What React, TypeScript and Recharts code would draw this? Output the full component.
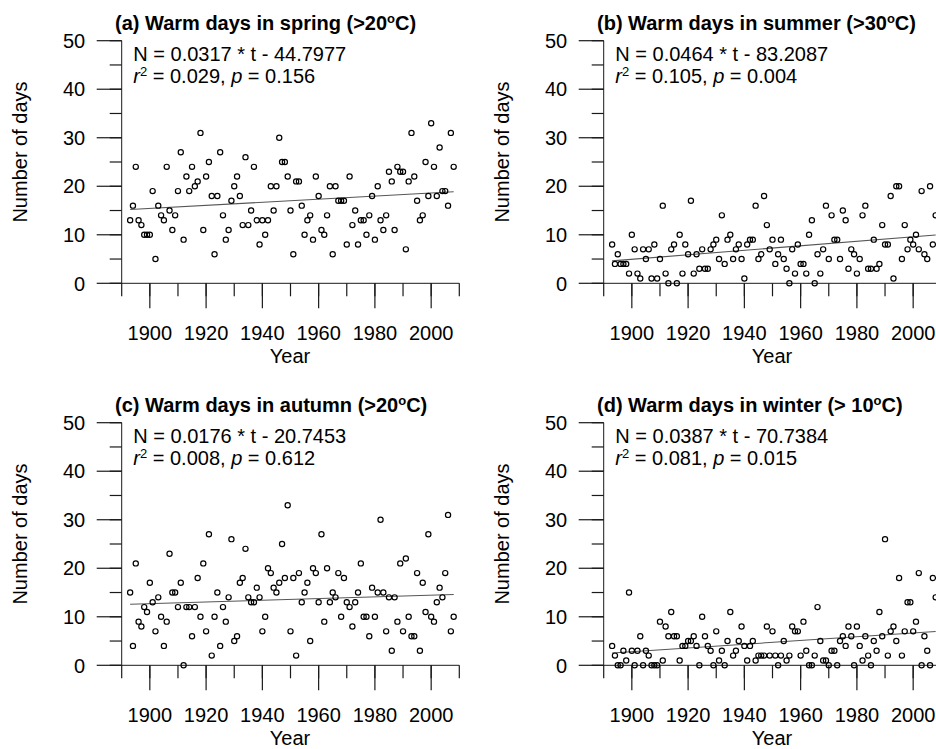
import React from 'react';
import { ScatterChart, Scatter, XAxis, YAxis, ReferenceLine } from 'recharts';

const FIRST_YEAR = 1893;

const SPRING = [
  13, 16, 24, 13, 12, 10, 10, 10, 19, 5,
  16, 14, 13, 24, 15, 11, 14, 19, 27, 9,
  22, 19, 24, 20, 21, 31, 11, 22, 25, 18,
  6, 18, 27, 14, 9, 11, 17, 20, 22, 18,
  12, 26, 12, 15, 24, 13, 8, 13, 10, 13,
  20, 15, 20, 30, 25, 25, 22,
  15, 6, 21, 21, 16, 10, 13, 14, 9, 22,
  18, 11, 10, 14, 20, 6, 20, 17, 17, 17,
  8, 22, 12, 15, 8, 13, 13, 10, 14, 18,
  9, 20, 13, 11, 14, 23, 21, 11, 24, 23,
  23, 7, 21, 31, 22, 17, 13, 14, 25, 18,
  33, 24, 18, 28, 19, 19, 16, 31, 24,
];

const SUMMER = [
  8, 4, 6, 4, 4, 4, 2, 10, 7, 2,
  1, 7, 5, 7, 1, 8, 1, 5, 16, 2,
  0, 7, 8, 0, 10, 2, 8, 6, 17, 2,
  6, 3, 7, 3, 3, 7, 8, 9, 5, 14,
  4, 9, 10, 5, 7, 8, 5, 1, 8, 9,
  9, 16, 5, 6, 18, 12, 7,
  9, 4, 6, 9, 5, 3, 0, 7, 2, 8,
  4, 4, 2, 10, 13, 0, 6, 2, 7, 16,
  5, 14, 9, 9, 5, 15, 13, 3, 7, 6,
  2, 5, 14, 16, 3, 3, 9, 3, 4, 12,
  8, 8, 18, 1, 20, 20, 5, 12, 7, 9,
  8, 10, 7, 19, 6, 5, 20, 8, 14,
];

const AUTUMN = [
  15, 4, 21, 9, 8, 12, 11, 17, 13, 7,
  14, 10, 4, 9, 23, 15, 15, 12, 17, 0,
  12, 12, 6, 12, 18, 10, 21, 7, 27, 2,
  10, 15, 4, 12, 9, 14, 26, 5, 6, 17,
  18, 24, 14, 13, 13, 16, 14, 7, 10, 20,
  19, 16, 15, 17, 25, 18, 33,
  7, 18, 2, 19, 13, 15, 17, 5, 20, 19,
  13, 27, 9, 20, 13, 15, 14, 19, 10, 18,
  13, 12, 8, 13, 15, 21, 10, 10, 6, 16,
  10, 15, 30, 15, 7, 14, 3, 14, 9, 21,
  7, 22, 10, 6, 6, 19, 3, 17, 11, 27,
  10, 9, 13, 16, 14, 19, 31, 7, 10,
];

const WINTER = [
  4, 2, 0, 0, 3, 1, 15, 3, 0, 3,
  6, 0, 3, 2, 0, 0, 0, 9, 1, 8,
  6, 11, 6, 6, 1, 4, 4, 5, 5, 6,
  4, 0, 10, 6, 4, 3, 0, 7, 1, 3,
  0, 5, 11, 2, 3, 5, 8, 4, 1, 4,
  5, 1, 2, 2, 2, 8, 2,
  7, 2, 0, 2, 5, 1, 2, 8, 7, 7,
  2, 9, 3, 0, 0, 2, 12, 5, 1, 1,
  0, 3, 3, 0, 5, 6, 4, 8, 6, 0,
  8, 4, 1, 6, 2, 0, 5, 3, 11, 6,
  26, 2, 7, 8, 5, 18, 2, 7, 13, 13,
  7, 9, 19, 0, 6, 3, 0, 18, 14,
];

const X_TICKS = [1890, 1900, 1910, 1920, 1930, 1940, 1950, 1960, 1970, 1980, 1990, 2000, 2010];
const X_LABELS = [1900, 1920, 1940, 1960, 1980, 2000];
const Y_TICKS = [0, 5, 10, 15, 20, 25, 30, 35, 40, 45, 50];
const Y_LABELS = [0, 10, 20, 30, 40, 50];
const X_DOMAIN = [1890, 2010];
const Y_DOMAIN = [0, 50];

const TITLE_HEADS = [
  '(a) Warm days in spring (>20',
  '(b) Warm days in summer (>30',
  '(c) Warm days in autumn (>20',
  '(d) Warm days in winter (> 10',
];
const EQUATIONS = [
  'N = 0.0317 * t - 44.7977',
  'N = 0.0464 * t - 83.2087',
  'N = 0.0176 * t - 20.7453',
  'N = 0.0387 * t - 70.7384',
];
const R2_VALUES = ['0.029', '0.105', '0.008', '0.081'];
const P_VALUES = ['0.156', '0.004', '0.612', '0.015'];
const SLOPES = [0.0317, 0.0464, 0.0176, 0.0387];
const INTERCEPTS = [-44.7977, -83.2087, -20.7453, -70.7384];
const SERIES = [SPRING, SUMMER, AUTUMN, WINTER];

const FONT = '"Liberation Sans", Arial, Helvetica, sans-serif';
const AXIS = '#1a1a1a';
const PANEL_W = 470;
const PANEL_H = 380;
const PLOT_LEFT = 121.7;
const PLOT_RIGHT = 459.3;
const PLOT_TOP = 40.7;
const PLOT_BOTTOM = 283.3;
const Y_AXIS_W = 100;
const X_AXIS_H = 60;
const Y_MINOR = 12;
const Y_MAJOR = 25;
const X_MINOR = 13;
const X_MAJOR = 25;
const PANEL_POS = [
  { left: 0, top: 0 },
  { left: 481.6, top: 0 },
  { left: 0, top: 382 },
  { left: 481.6, top: 382 },
];

// same linear mapping as the chart's plot box (used only for the longer major tick marks)
const xPix = (t: number) => PLOT_LEFT + ((t - X_DOMAIN[0]) * (PLOT_RIGHT - PLOT_LEFT)) / (X_DOMAIN[1] - X_DOMAIN[0]);
const yPix = (v: number) => PLOT_BOTTOM - ((v - Y_DOMAIN[0]) * (PLOT_BOTTOM - PLOT_TOP)) / (Y_DOMAIN[1] - Y_DOMAIN[0]);

function YTick(props: any) {
  const x = Number(props.x);
  const y = Number(props.y);
  const v = props.payload.value;
  if (!Y_LABELS.includes(v)) return <g />;
  return (
    <text x={x - (Y_MAJOR - Y_MINOR) - 11.5} y={y} dy="0.36em" textAnchor="end" fontSize={20} fontFamily={FONT} fill="#000">
      {v}
    </text>
  );
}

function XTick(props: any) {
  const x = Number(props.x);
  const y = Number(props.y);
  const v = props.payload.value;
  if (!X_LABELS.includes(v)) return <g />;
  return (
    <text x={x} y={y + 56.5 - X_MINOR} textAnchor="middle" fontSize={20} fontFamily={FONT} fill="#000">
      {v}
    </text>
  );
}

function OpenCircle(props: any) {
  const { cx, cy } = props;
  if (cx == null || cy == null) return null;
  return <circle cx={cx} cy={cy} r={2.6} fill="none" stroke="#000" strokeWidth={1.2} />;
}

function MajorTickMarks() {
  return (
    <g stroke={AXIS} strokeWidth={1.2} fill="none">
      {Y_LABELS.map((v) => {
        const y = yPix(v);
        return <line key={'y' + v} x1={PLOT_LEFT - Y_MAJOR} x2={PLOT_LEFT} y1={y} y2={y} />;
      })}
      {X_LABELS.map((t) => {
        const x = xPix(t);
        return <line key={'x' + t} x1={x} x2={x} y1={PLOT_BOTTOM} y2={PLOT_BOTTOM + X_MAJOR} />;
      })}
    </g>
  );
}

function Panel({ idx }: { idx: number }) {
  const values = SERIES[idx];
  const data = values.map((v, i) => ({ year: FIRST_YEAR + i, value: v }));
  const x0 = FIRST_YEAR;
  const x1 = FIRST_YEAR + values.length - 1;
  const seg = [
    { x: x0, y: SLOPES[idx] * x0 + INTERCEPTS[idx] },
    { x: x1, y: SLOPES[idx] * x1 + INTERCEPTS[idx] },
  ];
  const pos = PANEL_POS[idx];
  return (
    <div style={{ position: 'absolute', left: pos.left, top: pos.top, width: PANEL_W, height: PANEL_H }}>
      <ScatterChart
        width={PANEL_W}
        height={PANEL_H}
        margin={{
          left: PLOT_LEFT - Y_AXIS_W,
          right: PANEL_W - PLOT_RIGHT,
          top: PLOT_TOP,
          bottom: PANEL_H - PLOT_BOTTOM - X_AXIS_H,
        }}
      >
        <XAxis
          type="number"
          dataKey="year"
          domain={X_DOMAIN}
          ticks={X_TICKS}
          interval={0}
          height={X_AXIS_H}
          stroke={AXIS}
          tickSize={X_MINOR}
          tickMargin={0}
          tickLine={{ stroke: AXIS, strokeWidth: 1.2 }}
          tick={<XTick />}
        />
        <YAxis
          type="number"
          dataKey="value"
          domain={Y_DOMAIN}
          ticks={Y_TICKS}
          interval={0}
          width={Y_AXIS_W}
          stroke={AXIS}
          tickSize={Y_MINOR}
          tickMargin={0}
          tickLine={{ stroke: AXIS, strokeWidth: 1.2 }}
          tick={<YTick />}
        />
        <ReferenceLine segment={seg} stroke="#555" strokeWidth={1.1} />
        <Scatter data={data} shape={<OpenCircle />} isAnimationActive={false} />
      </ScatterChart>
      <svg width={PANEL_W} height={PANEL_H} style={{ position: 'absolute', left: 0, top: 0, pointerEvents: 'none' }}>
        <MajorTickMarks />
        <text x={115} y={29.5} fontSize={20} fontWeight="bold" fontFamily={FONT} fill="#000">
          {TITLE_HEADS[idx]}
          <tspan fontSize={13} dy={-7}>o</tspan>
          <tspan dy={7}>C)</tspan>
        </text>
        <text x={133.3} y={61} fontSize={20} fontFamily={FONT} fill="#000">
          {EQUATIONS[idx]}
        </text>
        <text x={133.3} y={83.3} fontSize={20} fontFamily={FONT} fill="#000">
          <tspan fontStyle="italic">r</tspan>
          <tspan fontSize={13} dy={-7}>2</tspan>
          <tspan dy={7}>{' = ' + R2_VALUES[idx] + ', '}</tspan>
          <tspan fontStyle="italic">p</tspan>
          <tspan>{' = ' + P_VALUES[idx]}</tspan>
        </text>
        <text transform="translate(27,152) rotate(-90)" textAnchor="middle" fontSize={20} fontFamily={FONT} fill="#000">
          Number of days
        </text>
        <text x={290} y={362.7} textAnchor="middle" fontSize={20} fontFamily={FONT} fill="#000">
          Year
        </text>
      </svg>
    </div>
  );
}

export default function App() {
  return (
    <div style={{ position: 'absolute', left: 0, top: 0, width: 936, height: 749, overflow: 'hidden', background: '#fff' }}>
      {[0, 1, 2, 3].map((i) => (
        <Panel key={i} idx={i} />
      ))}
    </div>
  );
}
